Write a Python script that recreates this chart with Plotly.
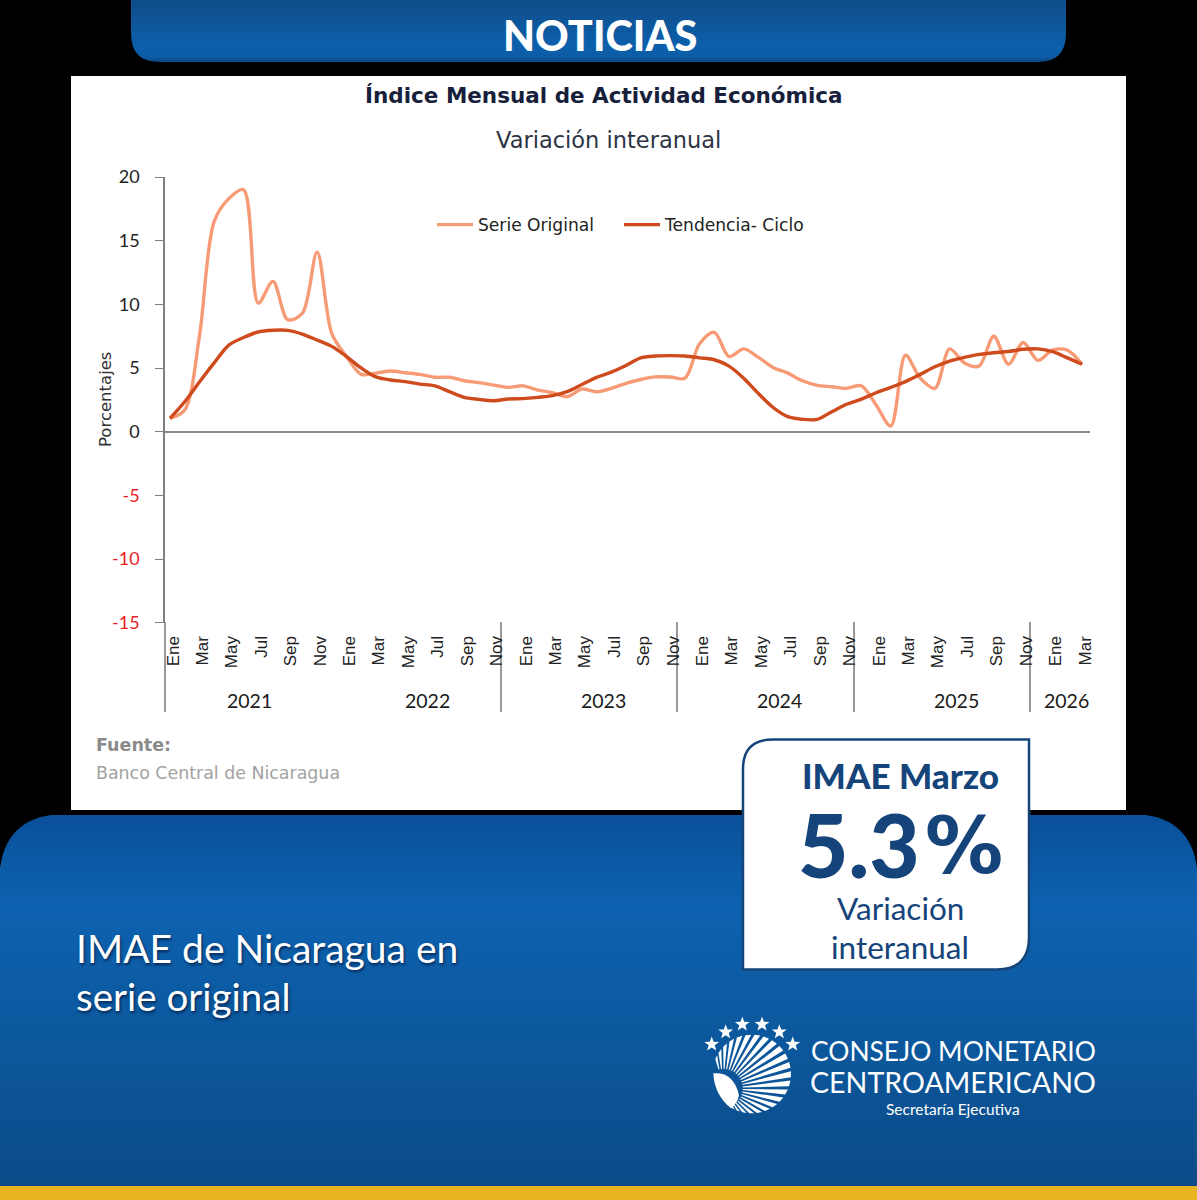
import math
import plotly.graph_objects as go

# ---------- data ----------
month_labels = ["Ene", "Feb", "Mar", "Abr", "May", "Jun", "Jul", "Ago", "Sep", "Oct", "Nov", "Dic"]
years = [2021, 2022, 2023, 2024, 2025, 2026]
periods = [f"{y}-{m:02d}" for y in years for m in range(1, 13)][:63]
serie_original = [1.05, 1.7, 7.5, 16.5, 18.3, 19.0, 10.1, 11.8, 8.8, 9.3, 14.1, 7.7, 5.9, 4.5, 4.6, 4.76,
                  4.63, 4.5, 4.27, 4.27, 4.0, 3.85, 3.66, 3.48, 3.6, 3.27, 3.06, 2.75, 3.35, 3.14, 3.4,
                  3.8, 4.1, 4.3, 4.3, 4.2, 6.9, 7.8, 5.9, 6.5, 5.84, 5.05, 4.6, 4.0, 3.64, 3.53, 3.4,
                  3.6, 2.1, 0.45, 6.0, 4.2, 3.4, 6.5, 5.4, 5.15, 7.5, 5.3, 7.0, 5.6, 6.4, 6.4, 5.3]
tendencia_ciclo = [1.05, 2.35, 3.9, 5.4, 6.8, 7.4, 7.83, 7.96, 7.96, 7.67, 7.2, 6.7, 5.9, 5.0, 4.3, 4.06,
                   3.93, 3.74, 3.6, 3.14, 2.7, 2.54, 2.43, 2.57, 2.6, 2.7, 2.83, 3.14, 3.7, 4.27, 4.68,
                   5.2, 5.8, 5.94, 5.97, 5.94, 5.8, 5.65, 5.15, 4.2, 3.0, 1.9, 1.18, 0.97, 0.97, 1.57, 2.15,
                   2.56, 3.06, 3.48, 3.93, 4.5, 5.1, 5.55, 5.84, 6.07, 6.2, 6.3, 6.47, 6.5, 6.28, 5.8, 5.3]
y_ticks = [-15, -10, -5, 0, 5, 10, 15, 20]
x_tick_periods = periods[::2]
x_tick_text = [month_labels[int(p[5:]) - 1] for p in x_tick_periods]
year_labels = ["2021", "2022", "2023", "2024", "2025", "2026"]

# ---------- page geometry ----------
W, H = 1197, 1200
NAVY = "#15447a"
def fx(x): return x / W
def fy(y): return 1 - y / H
def rect(x0, y0, x1, y1, color, **kw):
    return dict(type="rect", xref="paper", yref="paper", x0=fx(x0), x1=fx(x1), y0=fy(y0), y1=fy(y1),
                fillcolor=color, line=dict(width=0), layer="below", **kw)
def path(d, color, line=None):
    out = []
    for tok in d:
        if isinstance(tok, str):
            out.append(tok)
        else:
            out.append(f"{fx(tok[0]):.5f},{fy(tok[1]):.5f}")
    return dict(type="path", xref="paper", yref="paper", path=" ".join(out), fillcolor=color,
                line=line or dict(width=0), layer="below")
def mix(stops, y):
    for (y0, c0), (y1, c1) in zip(stops, stops[1:]):
        if y0 <= y <= y1:
            t = (y - y0) / (y1 - y0)
            return "rgb(" + ",".join(str(round(a + (b - a) * t)) for a, b in zip(c0, c1)) + ")"
    return "rgb(%d,%d,%d)" % stops[-1][1]
def gradient(x0, x1, y0, y1, stops, step=2):
    return [rect(x0, y, x1, min(y + step + 1, y1), mix(stops, y)) for y in range(y0, y1, step)]

shapes = []
# top banner
shapes += gradient(131, 1066, 0, 62, [(0, (14, 77, 138)), (46, (13, 96, 172)), (56, (13, 92, 165)), (62, (10, 66, 120))], 2)
shapes.append(path(["M", (130, 33), "L", (131, 33), "Q", (131, 62), (159, 62), "L", (159, 63), "L", (130, 63), "Z"], "#000000"))
shapes.append(path(["M", (1067, 33), "L", (1066, 33), "Q", (1066, 62), (1038, 62), "L", (1038, 63), "L", (1067, 63), "Z"], "#000000"))
# white panel
shapes.append(rect(71, 76, 1126, 810, "#ffffff"))
# bottom panel
shapes += gradient(0, W, 815, 1186, [(815, (10, 80, 153)), (905, (13, 98, 176)), (1186, (11, 76, 136))], 2)
shapes.append(path(["M", (-1, 814), "L", (66, 814), "Q", (0, 814), (-1, 882), "Z"], "#000000"))
shapes.append(path(["M", (W + 1, 814), "L", (W - 66, 814), "Q", (W, 814), (W + 1, 882), "Z"], "#000000"))
shapes.append(rect(0, 1186, W, H, "#e9b41f"))
# callout
shapes.append(path(["M", (773, 739.5), "L", (1029, 739.5), "L", (1029, 937), "Q", (1029, 969.5), (997, 969.5),
                    "L", (743, 969.5), "L", (743, 769), "Q", (743, 739.5), (773, 739.5), "Z"], "#ffffff",
                   dict(color=NAVY, width=2.5)))
# multi-level axis rules
for x in [165, 501, 677, 854, 1030]:
    shapes.append(dict(type="line", xref="paper", yref="paper", x0=fx(x), x1=fx(x), y0=fy(622), y1=fy(712),
                       line=dict(color="#7f7f7f", width=1.6), layer="below"))
# logo: stars
for cx, cy in [(711.7, 1044.3), (725.7, 1032), (742.3, 1024.3), (762, 1024.3), (779.3, 1032), (792.7, 1044.3)]:
    d = []
    for k in range(10):
        r = 7.8 if k % 2 == 0 else 3.2
        a = math.radians(-90 + 36 * k)
        d += ["M" if k == 0 else "L", (cx + r * math.cos(a), cy + r * math.sin(a))]
    shapes.append(path(d + ["Z"], "#ffffff"))
# logo: rays and leaf
ox, oy = 695, 1010
Fx, Fy = 85 / 3, 235 / 3
Cx, Cy, R = 170 / 3, 192 / 3, 118 / 3
def outer(a):
    dx, dy = math.cos(a), -math.sin(a)
    b = dx * (Fx - Cx) + dy * (Fy - Cy)
    c = (Fx - Cx) ** 2 + (Fy - Cy) ** 2 - R ** 2
    return -b + math.sqrt(b * b - c)
for k in range(23):
    th = math.radians(103 - k * 7.6)
    hw = math.radians(2.4)
    r0 = 58 / 3
    pts = []
    for a, r in [(th - hw * 0.6, r0), (th - hw, outer(th - hw)), (th + hw, outer(th + hw)), (th + hw * 0.6, r0)]:
        pts.append((ox + Fx + r * math.cos(a), oy + Fy - r * math.sin(a)))
    shapes.append(path(["M", pts[0], "L", pts[1], "L", pts[2], "L", pts[3], "Z"], "#ffffff"))
def lp(x, y): return (ox + x / 3, oy + y / 3)
shapes.append(path(["M", lp(55, 190), "Q", lp(115, 185), lp(132, 255), "Q", lp(128, 280), lp(108, 295),
                    "Q", lp(58, 255), lp(55, 190), "Z"], "#ffffff"))

# ---------- annotations ----------
def note(text, x, y, size, color, anchor="center", family="Lato", weight=None, **kw):
    font = dict(family=family, size=size, color=color)
    if weight: font["weight"] = weight
    if "shadow" in kw: font["shadow"] = kw.pop("shadow")
    return dict(text=text, xref="paper", yref="paper", x=fx(x), y=fy(y), xanchor=anchor, yanchor="middle",
                showarrow=False, font=font, **kw)

WIDE = "DejaVu Sans"
annotations = [
    note("NOTICIAS", 600, 35, 41.5, "#ffffff", weight=900),
    note("Índice Mensual de Actividad Económica", 604, 96, 21.5, "#16203a", family=WIDE, weight=700),
    note("Variación interanual", 608, 140, 22.5, "#2c3444", family=WIDE),
    note("Porcentajes", 106, 400, 16.5, "#333333", family=WIDE, textangle=-90),
    note("Fuente:", 94, 745, 17.5, "#8a8a8a", anchor="left", family=WIDE, weight=700),
    note("Banco Central de Nicaragua", 94, 773, 17.4, "#a2a2a2", anchor="left", family=WIDE),
    note("IMAE Marzo", 900, 775, 35, NAVY, weight=900),
    note("5.3", 859, 844, 87, NAVY, weight=900, height=72),
    note("%", 964, 846, 78, NAVY, family=WIDE, weight=700),
    note("Variación", 900, 908, 31.5, NAVY),
    note("interanual", 900, 947, 31.5, NAVY),
    note("IMAE de Nicaragua en", 74, 948, 39, "#ffffff", anchor="left", shadow="1px 2px 3px rgba(0,0,30,0.6)"),
    note("serie original", 74, 996, 38.5, "#ffffff", anchor="left", shadow="1px 2px 3px rgba(0,0,30,0.6)"),
    note("CONSEJO MONETARIO", 1098, 1051, 26.4, "#ffffff", anchor="right"),
    note("CENTROAMERICANO", 1098, 1082, 28.6, "#ffffff", anchor="right"),
    note("Secretaría Ejecutiva", 953, 1109, 15.5, "#ffffff"),
]
for lab, x in zip(year_labels, [249, 427, 603, 779, 956, 1066]):
    annotations.append(note(lab, x, 700, 19.5, "#1a1a1a"))

# ---------- figure ----------
fig = go.Figure()
fig.add_trace(go.Scatter(x=periods, y=serie_original, name="Serie Original", mode="lines",
                         line=dict(color="#f79a76", width=3.4, shape="spline", smoothing=0.9)))
fig.add_trace(go.Scatter(x=periods, y=tendencia_ciclo, name="Tendencia- Ciclo", mode="lines",
                         line=dict(color="#cf4a1c", width=3.4, shape="spline", smoothing=0.9)))

x_left, x_right = 165, 1090
first, step = 170, 14.71
red_text = [f'<span style="color:#ee1c25">{v}</span>' if v < 0 else str(v) for v in y_ticks]
fig.update_layout(
    width=W, height=H, autosize=False,
    margin=dict(l=0, r=0, t=0, b=0, pad=0, autoexpand=False),
    paper_bgcolor="#000000", plot_bgcolor="rgba(0,0,0,0)",
    shapes=shapes, annotations=annotations,
    font=dict(family="Lato"),
    legend=dict(orientation="h", x=fx(432), y=fy(225), xanchor="left", yanchor="middle",
                bgcolor="rgba(0,0,0,0)", font=dict(family=WIDE, size=17.1, color="#222222"),
                itemwidth=36, entrywidth=136, entrywidthmode="pixels", traceorder="normal"),
    xaxis=dict(type="category", categoryorder="array", categoryarray=periods,
               domain=[fx(x_left), fx(x_right)],
               range=[(x_left - first) / step, (x_right - first) / step],
               showgrid=False, zeroline=False, showline=False, ticks="",
               tickmode="array", tickvals=x_tick_periods, ticktext=x_tick_text, tickangle=-90,
               ticklabelstandoff=9, ticklabelshift=3,
               tickfont=dict(family="Liberation Sans", size=17, color="#222222")),
    yaxis=dict(domain=[fy(622.7), fy(177)], range=[-15, 20], showgrid=False,
               zeroline=True, zerolinecolor="#8a8a8a", zerolinewidth=1.8,
               showline=True, linecolor="#7f7f7f", linewidth=1.6,
               ticks="outside", ticklen=8, tickcolor="#7f7f7f", tickwidth=1.4,
               tickmode="array", tickvals=y_ticks, ticktext=red_text,
               ticklabelstandoff=12,
               tickfont=dict(family="Lato", size=18, color="#222222")),
)
fig.write_html("out.html", config={"displayModeBar": False},
               post_script="document.body.style.margin='0';document.body.style.background='#000';")
